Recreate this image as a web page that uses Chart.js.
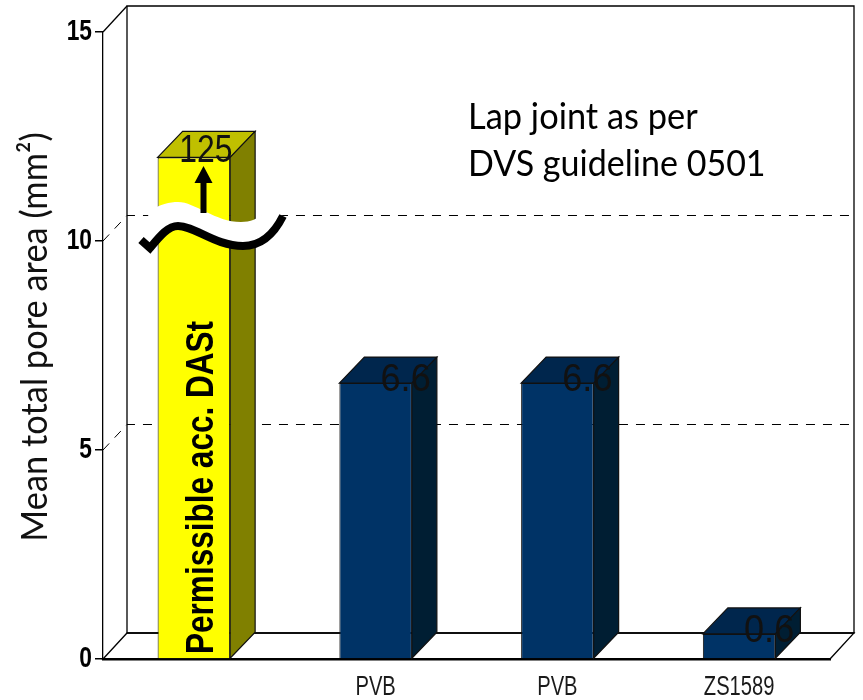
<!DOCTYPE html>
<html>
<head>
<meta charset="utf-8">
<style>
  body { margin: 0; background: #fff; }
  canvas { display: block; }
</style>
<script src="https://cdn.jsdelivr.net/npm/chart.js@4"></script>
</head>
<body>
<canvas id="poreChart" width="863" height="700"></canvas>
<script>
const categories = ['', 'PVB', 'PVB', 'ZS1589'];
// the first bar is cut by an axis break, its real value is only printed
const barHeights = [12, 6.6, 6.6, 0.6];
const valueLabels = ['125', '6.6', '6.6', '0.6'];
const yTicks = [0, 5, 10, 15];
const gridValues = [5, 10];

const sans = '"Liberation Sans", sans-serif';
const colors = {
  front: ['#ffff00', '#003366', '#003366', '#003366'],
  top: ['#c0c000', '#00264d', '#00264d', '#00264d'],
  side: ['#808000', '#001e33', '#001e33', '#001e33'],
};
const wallX = 24;
const barX = 25;
const depthY = 26;

function poly(ctx, points, fill) {
  ctx.beginPath();
  points.forEach((p, i) => (i ? ctx.lineTo(p[0], p[1]) : ctx.moveTo(p[0], p[1])));
  ctx.closePath();
  if (fill) {
    ctx.fillStyle = fill;
    ctx.fill();
  }
  ctx.stroke();
}

// no condensed face is installed, so squeeze the text sideways
function squeezed(ctx, text, x, y, sx) {
  ctx.save();
  ctx.translate(x, y);
  ctx.scale(sx, 1);
  ctx.fillText(text, 0, 0);
  ctx.restore();
}

const walls = {
  id: 'walls',
  beforeDatasetsDraw(chart) {
    const { ctx, chartArea: a, scales: { y } } = chart;
    ctx.save();
    ctx.strokeStyle = '#000';
    ctx.lineWidth = 1.3;
    // floor and back wall
    poly(ctx, [[a.left, a.bottom], [a.left + wallX, a.bottom - depthY], [a.right + wallX, a.bottom - depthY], [a.right, a.bottom]]);
    poly(ctx, [[a.left + wallX, a.bottom - depthY], [a.left + wallX, a.top - depthY], [a.right + wallX, a.top - depthY], [a.right + wallX, a.bottom - depthY]]);
    ctx.beginPath();
    ctx.moveTo(a.left, a.top);
    ctx.lineTo(a.left + wallX, a.top - depthY);
    ctx.stroke();
    // dashed grid on the back wall
    ctx.lineWidth = 1;
    ctx.strokeStyle = '#000';
    ctx.setLineDash([9, 8]);
    gridValues.forEach((v) => {
      const py = y.getPixelForValue(v);
      const back = Math.round(py - depthY) + 0.5;
      ctx.beginPath();
      ctx.moveTo(a.left, py);
      ctx.lineTo(a.left + wallX, back);
      ctx.lineTo(a.right + wallX, back);
      ctx.stroke();
    });
    ctx.restore();
  },
  afterDatasetsDraw(chart) {
    const { ctx } = chart;
    ctx.save();
    ctx.strokeStyle = '#111';
    ctx.lineWidth = 1.2;
    chart.getDatasetMeta(0).data.forEach((bar, i) => {
      const l = bar.x - bar.width / 2;
      const r = bar.x + bar.width / 2;
      const t = bar.y;
      const b = bar.base;
      poly(ctx, [[l, t], [l + barX, t - depthY], [r + barX, t - depthY], [r, t]], colors.top[i]);
      poly(ctx, [[r, t], [r + barX, t - depthY], [r + barX, b - depthY], [r, b]], colors.side[i]);
    });
    ctx.restore();
  },
  afterDraw(chart) {
    const { ctx, scales: { x, y } } = chart;
    const bars = chart.getDatasetMeta(0).data;
    ctx.save();

    // axis break across the first bar
    ctx.fillStyle = '#fff';
    ctx.beginPath();
    ctx.moveTo(148, 212);
    ctx.bezierCurveTo(160, 204, 170, 202, 178, 202);
    ctx.bezierCurveTo(195, 202, 215, 222, 241, 222);
    ctx.bezierCurveTo(250, 222, 258, 219, 265, 212);
    ctx.lineTo(283, 216);
    ctx.bezierCurveTo(275, 232, 262, 246, 243, 246);
    ctx.bezierCurveTo(215, 246, 195, 226, 178, 226);
    ctx.bezierCurveTo(168, 226, 160, 236, 150, 248);
    ctx.closePath();
    ctx.fill();

    ctx.strokeStyle = '#000';
    ctx.lineWidth = 8;
    ctx.lineJoin = 'miter';
    ctx.beginPath();
    ctx.moveTo(141, 240);
    ctx.lineTo(150, 248);
    ctx.bezierCurveTo(160, 236, 168, 226, 178, 226);
    ctx.bezierCurveTo(195, 226, 215, 246, 243, 246);
    ctx.bezierCurveTo(262, 246, 275, 232, 283, 216);
    ctx.stroke();

    // arrow above the break
    ctx.fillStyle = '#000';
    ctx.fillRect(200.5, 182, 6, 31);
    ctx.beginPath();
    ctx.moveTo(203.5, 166);
    ctx.lineTo(212.5, 183);
    ctx.lineTo(194.5, 183);
    ctx.closePath();
    ctx.fill();

    // printed values, shifted onto the top face
    ctx.fillStyle = '#111';
    ctx.textAlign = 'center';
    ctx.textBaseline = 'alphabetic';
    ctx.font = '38px ' + sans;
    bars.forEach((bar, i) => {
      squeezed(ctx, valueLabels[i], bar.x + (i === 0 ? 12 : 30), bar.y + (i === 0 ? 5 : 8), i === 0 ? 0.84 : 0.95);
    });

    // axis labels
    ctx.fillStyle = '#000';
    ctx.textAlign = 'right';
    ctx.textBaseline = 'middle';
    ctx.font = 'bold 30px ' + sans;
    yTicks.forEach((v) => squeezed(ctx, String(v), 92, y.getPixelForValue(v), 0.76));

    ctx.fillStyle = '#1a1a1a';
    ctx.textAlign = 'center';
    ctx.textBaseline = 'alphabetic';
    ctx.font = '28px ' + sans;
    categories.forEach((c, i) => squeezed(ctx, c, x.getPixelForTick(i), 695, 0.72));

    // note
    ctx.textAlign = 'left';
    ctx.fillStyle = '#000';
    ctx.font = '37px Lato, ' + sans;
    squeezed(ctx, 'Lap joint as per', 468, 129, 0.93);
    squeezed(ctx, 'DVS guideline 0501', 468, 176, 0.92);

    // y axis title
    ctx.save();
    ctx.translate(47, 337);
    ctx.rotate(-Math.PI / 2);
    ctx.textAlign = 'center';
    ctx.fillStyle = '#111';
    squeezed(ctx, 'Mean total pore area (mm²)', 0, 0, 0.93);
    ctx.restore();

    // label inside the yellow bar
    ctx.translate(213, 654);
    ctx.rotate(-Math.PI / 2);
    ctx.font = 'bold 38px ' + sans;
    squeezed(ctx, 'Permissible acc. DASt', 0, 0, 0.83);
    ctx.restore();
  },
};

new Chart(document.getElementById('poreChart').getContext('2d'), {
  type: 'bar',
  data: {
    labels: categories,
    datasets: [{
      data: barHeights,
      backgroundColor: colors.front,
      borderColor: '#111',
      borderWidth: 1,
      categoryPercentage: 1,
      barPercentage: 0.399,
    }],
  },
  options: {
    responsive: false,
    animation: false,
    layout: { padding: { top: 32, right: 33, left: 0, bottom: 0 } },
    plugins: { legend: { display: false }, tooltip: { enabled: false } },
    scales: {
      x: {
        afterFit(scale) { scale.height = 41; },
        grid: { display: false },
        border: { display: true, color: '#000', width: 2.5 },
        ticks: { display: false },
      },
      y: {
        min: 0,
        max: 15,
        afterFit(scale) { scale.width = 103; },
        afterBuildTicks(scale) { scale.ticks = yTicks.map((value) => ({ value })); },
        grid: { drawOnChartArea: false, tickLength: 8, color: '#000', lineWidth: 1.5 },
        border: { display: true, color: '#000', width: 1.3 },
        ticks: { display: false },
      },
    },
  },
  plugins: [walls],
});
</script>
</body>
</html>
